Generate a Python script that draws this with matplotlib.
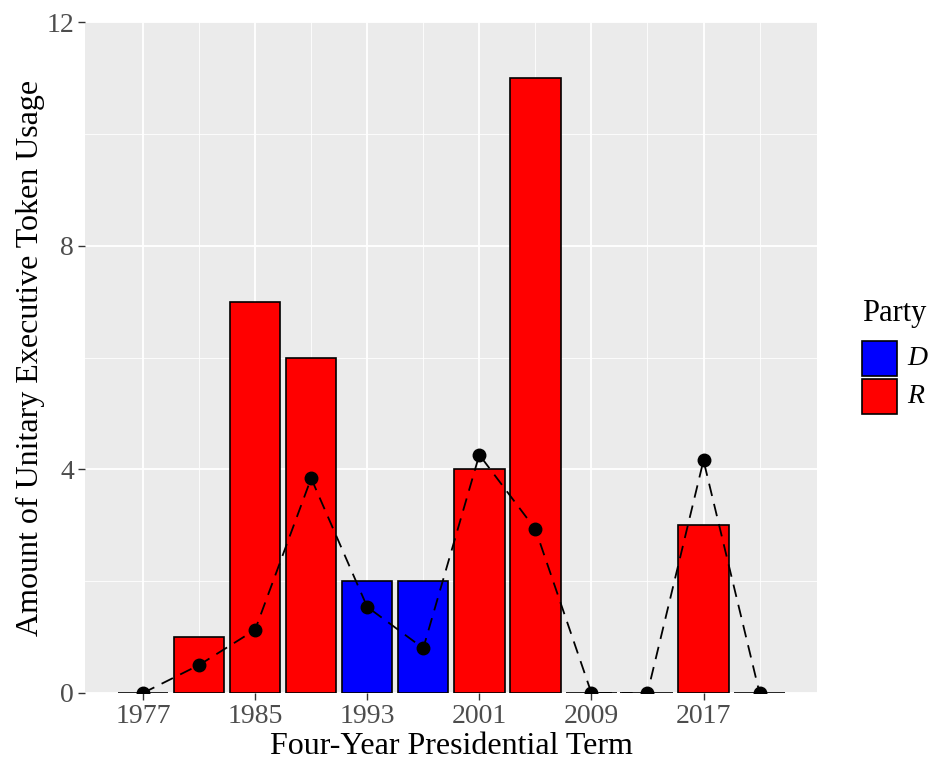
import numpy as np
import matplotlib.pyplot as plt
from matplotlib.patches import Rectangle

plt.rcParams['font.family'] = ['Liberation Serif', 'DejaVu Serif']

# data
terms = [1977, 1981, 1985, 1989, 1993, 1997, 2001, 2005, 2009, 2013, 2017, 2021]
party = ['D', 'R', 'R', 'R', 'D', 'D', 'R', 'R', 'D', 'D', 'R', 'D']
usage = [0, 1, 7, 6, 2, 2, 4, 11, 0, 0, 3, 0]
trend = [0, 0.5, 1.13, 3.84, 1.54, 0.80, 4.26, 2.93, 0, 0, 4.16, 0]
xticks = [1977, 1985, 1993, 2001, 2009, 2017]
xminor = [1981, 1989, 1997, 2005, 2013, 2021]
legend_labels = ['D', 'R']

colors = {'D': '#0000FF', 'R': '#FF0000'}

W, H = 934, 762
fig = plt.figure(figsize=(W / 100, H / 100), dpi=100)
ax = fig.add_axes([85 / W, 69 / H, 732 / W, 671 / H])
ax.set_facecolor('#EBEBEB')

ax.bar(terms, usage, width=3.6, color=[colors[p] for p in party],
       edgecolor='black', linewidth=1.2, zorder=3)
ax.plot(terms, trend, color='black', linestyle=(0, (7, 4.5)), linewidth=1.3,
        marker='o', markersize=9, zorder=4)

ax.set_xlim(1972.86, 2025.1)
ax.set_ylim(0, 12)
ax.set_xticks(xticks)
ax.set_xticks(xminor, minor=True)
ax.set_yticks([0, 4, 8, 12])
ax.set_yticks([2, 6, 10], minor=True)

ax.grid(True, 'major', color='white', linewidth=1.3, zorder=0)
ax.grid(True, 'minor', color='white', linewidth=0.6, zorder=0)
ax.set_axisbelow(True)
for s in ax.spines.values():
    s.set_visible(False)

ax.tick_params(which='major', length=5, width=1, color='#333333',
               labelcolor='#4D4D4D', labelsize=20, pad=3)
ax.tick_params(which='minor', length=0)

ax.set_xlabel('Four-Year Presidential Term', fontsize=23, labelpad=2)
ax.set_ylabel('Amount of Unitary Executive Token Usage', fontsize=23, labelpad=1)

# legend drawn by hand, ggplot style
fig.text(862 / W, 1 - 313 / H, 'Party', fontsize=22, ha='left', va='center')
key_top = 341
for i, lab in enumerate(legend_labels):
    y0 = key_top + i * 38
    fig.add_artist(Rectangle((862 / W, 1 - (y0 + 35) / H), 35 / W, 35 / H,
                             transform=fig.transFigure, facecolor=colors[lab],
                             edgecolor='black', linewidth=1.2))
    fig.text(907 / W, 1 - (y0 + 17.5) / H, lab, fontsize=20, style='italic',
             ha='left', va='center')

fig.savefig('out.png', dpi=100)
